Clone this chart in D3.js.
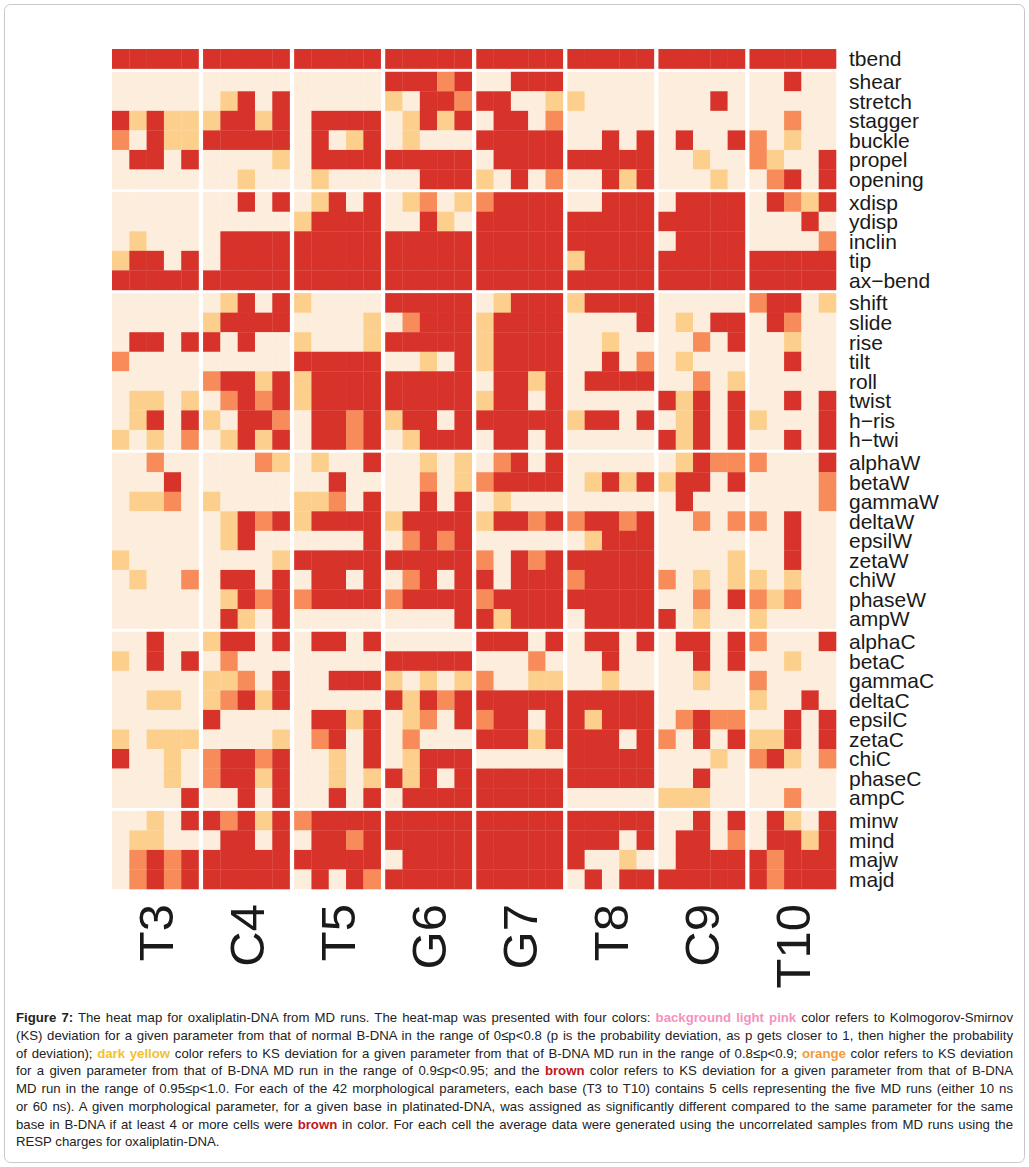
<!DOCTYPE html>
<html>
<head>
<meta charset="utf-8">
<script src="https://cdn.jsdelivr.net/npm/d3@7"></script>
<style>
  body { margin: 0; background: #fff; }
  svg { display: block; font-family: "Liberation Sans", Arial, sans-serif; }
</style>
</head>
<body>
<script>
// bases on the x axis, 5 MD runs each
const bases = ["T3", "C4", "T5", "G6", "G7", "T8", "C9", "T10"];
const runs = [0, 1, 2, 3, 4];

// parameters (rows) and the block each one belongs to
const params = ["tbend",
  "shear", "stretch", "stagger", "buckle", "propel", "opening",
  "xdisp", "ydisp", "inclin", "tip", "ax\u2212bend",
  "shift", "slide", "rise", "tilt", "roll", "twist", "h\u2212ris", "h\u2212twi",
  "alphaW", "betaW", "gammaW", "deltaW", "epsilW", "zetaW", "chiW", "phaseW", "ampW",
  "alphaC", "betaC", "gammaC", "deltaC", "epsilC", "zetaC", "chiC", "phaseC", "ampC",
  "minw", "mind", "majw", "majd"];
const blockSizes = [1, 6, 5, 8, 9, 9, 4];

// KS level per cell: 0 p<0.8, 1 0.8-0.9, 2 0.9-0.95, 3 0.95-1.0
// one string per row, 5 chars per base, bases in order T3..T10
const levels = [
  "33333 33333 33333 33333 33333 33333 33333 33333",
  "00000 00000 00000 33323 00333 00000 00000 00300",
  "00000 01303 00000 10332 33001 10000 00030 00000",
  "31311 13313 03333 01313 03302 00000 00000 00200",
  "20311 33333 03013 01000 33333 00303 03003 20100",
  "03303 00001 03333 33333 03333 33333 00100 21003",
  "00000 00100 01000 00333 10302 00313 00010 02303",
  "00000 00303 01303 01201 23333 00333 03333 03213",
  "00000 00000 13333 00310 33333 33333 33333 00030",
  "01000 03333 33333 33333 33333 33333 03333 00002",
  "13303 03333 33333 33333 33333 13333 33333 33333",
  "33333 33333 33333 33333 33333 33333 33333 33333",
  "00000 01303 10000 33333 01333 13333 00000 23301",
  "00000 13333 00001 02333 13333 00003 01033 03200",
  "03303 30300 10001 33333 13333 00100 00203 00100",
  "20000 00000 33333 00103 13333 00302 01000 00300",
  "00000 23313 13333 33333 03313 03333 00201 00000",
  "01101 02323 13333 33333 13303 00000 31303 00303",
  "01303 10332 03323 13303 33333 13303 01303 10003",
  "10102 01313 03323 01333 03303 00000 31303 00303",
  "00200 00021 01003 00101 02303 00000 01322 20003",
  "00030 00000 00300 00201 23333 01313 13303 00002",
  "01120 10000 11203 00303 01000 00000 03000 00002",
  "00000 01323 13333 13333 13323 23323 00202 20300",
  "00000 01300 00003 02323 00000 01333 00000 00300",
  "10000 00001 33333 33333 20323 33333 00001 00300",
  "01002 03303 03303 02303 30333 23333 20101 10100",
  "00000 01323 23333 23333 23333 33333 00203 21200",
  "00000 03103 00000 00003 31333 03333 30100 10000",
  "00300 13303 03303 00000 33303 03303 03303 20003",
  "10303 02000 00000 33333 00020 00300 00303 00100",
  "00000 11203 00333 10101 20011 00100 00100 20000",
  "00110 12313 00000 31323 33333 33333 00000 10030",
  "00000 30000 03313 01203 23303 31333 02322 00303",
  "10111 00001 02303 02000 33313 33303 20303 11303",
  "30010 23323 00103 01333 00000 33333 00010 23102",
  "00010 23313 00101 31303 33333 33333 00300 00000",
  "00003 00303 00303 03333 33333 00000 11100 00200",
  "00103 32313 23333 33333 33333 33333 00303 03103",
  "01100 03303 03323 33333 33333 33303 03302 03313",
  "02323 33333 33333 03333 33333 30010 03333 32333",
  "02323 33333 03032 33333 33333 03033 33333 32333"
];
const levelColors = ["#fdeddd", "#fdcf8c", "#f78c5a", "#d7332a"];

const captionLines = [
  [["Figure 7:", "b"], [" The heat map for oxaliplatin-DNA from MD runs. The heat-map was presented with four colors: "], ["background light pink", "pink"], [" color refers to Kolmogorov-Smirnov"]],
  [["(KS) deviation for a given parameter from that of normal B-DNA in the range of 0\u2264p<0.8 (p is the probability deviation, as p gets closer to 1, then higher the probability"]],
  [["of deviation); "], ["dark yellow", "yellow"], [" color refers to KS deviation for a given parameter from that of B-DNA MD run in the range of 0.8\u2264p<0.9; "], ["orange", "orange"], [" color refers to KS deviation"]],
  [["for a given parameter from that of B-DNA MD run in the range of 0.9\u2264p<0.95; and the "], ["brown", "brown"], [" color refers to KS deviation for a given parameter from that of B-DNA"]],
  [["MD run in the range of 0.95\u2264p<1.0. For each of the 42 morphological parameters, each base (T3 to T10) contains 5 cells representing the five MD runs (either 10 ns"]],
  [["or 60 ns). A given morphological parameter, for a given base in platinated-DNA, was assigned as significantly different compared to the same parameter for the same"]],
  [["base in B-DNA if at least 4 or more cells were "], ["brown", "brown"], [" in color. For each cell the average data were generated using the uncorrelated samples from MD runs using the"]],
  [["RESP charges for oxaliplatin-DNA."]]
];
const captionColors = {b: "#222", pink: "#f78fc0", yellow: "#f2c12e", orange: "#f59a3c", brown: "#c0171d"};

const W = 1029, H = 1167;
const svg = d3.select("body").append("svg").attr("width", W).attr("height", H);

// frame
svg.append("rect").attr("x", 4.5).attr("y", 4.5).attr("width", W - 9).attr("height", H - 9)
  .attr("rx", 6).attr("fill", "#fff").attr("stroke", "#c8c8c8");

const blockGap = 3.2;
const blockOf = [];
blockSizes.forEach((n, b) => { for (let i = 0; i < n; i++) blockOf.push(b); });

const x = d3.scaleBand().domain(bases).range([112, 836]).paddingInner(0.05);
const xc = d3.scaleBand().domain(runs).range([0, x.bandwidth()]);
const y = d3.scaleBand().domain(params).range([49, 889 - blockGap * (blockSizes.length - 1)]);
const rowY = (p, i) => y(p) + blockOf[i] * blockGap;

const cells = [];
params.forEach((p, i) => {
  const codes = levels[i].replace(/ /g, "");
  bases.forEach((b, j) => {
    runs.forEach(r => cells.push({p, i, b, r, v: +codes[j * 5 + r]}));
  });
});

svg.append("g")
  .selectAll("rect")
  .data(cells)
  .enter()
  .append("rect")
  .attr("x", d => x(d.b) + xc(d.r))
  .attr("y", d => rowY(d.p, d.i))
  .attr("width", xc.bandwidth() + 0.3)
  .attr("height", y.bandwidth() + 0.3)
  .attr("fill", d => levelColors[d.v]);

// row labels
svg.append("g")
  .selectAll("text")
  .data(params)
  .enter()
  .append("text")
  .attr("x", 849)
  .attr("y", (p, i) => rowY(p, i) + y.bandwidth() / 2)
  .attr("dy", "0.36em")
  .attr("font-size", 21)
  .attr("fill", "#1a1a1a")
  .text(p => p);

// base labels, rotated
svg.append("g")
  .selectAll("text")
  .data(bases)
  .enter()
  .append("text")
  .attr("transform", b => "translate(" + (x(b) + x.bandwidth() / 2) + ",904) rotate(-90)")
  .attr("text-anchor", "end")
  .attr("dy", "0.36em")
  .attr("font-size", 49)
  .attr("fill", "#1a1a1a")
  .text(b => b);

// caption, justified between 16 and 1013
const capLeft = 16, capRight = 1013;
captionLines.forEach((segs, li) => {
  const t = svg.append("text")
    .attr("x", capLeft)
    .attr("y", 1022 + li * 17.75)
    .attr("font-size", 13.2)
    .attr("fill", "#222");
  segs.forEach(s => {
    const ts = t.append("tspan").text(s[0]);
    if (s[1]) ts.attr("font-weight", "bold").attr("fill", captionColors[s[1]]);
  });
  if (li < captionLines.length - 1) {
    const len = t.node().getComputedTextLength();
    const spaces = segs.map(s => s[0]).join("").split(" ").length - 1;
    t.attr("word-spacing", (capRight - capLeft - len) / spaces);
  }
});
</script>
</body>
</html>
